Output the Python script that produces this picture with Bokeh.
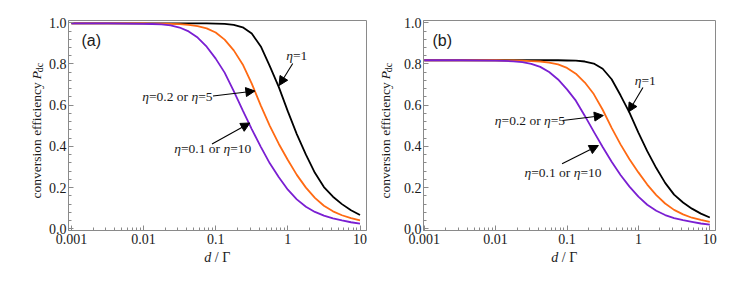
import math
from bokeh.plotting import figure
from bokeh.layouts import row, column
from bokeh.models import (Range1d, Label, Arrow, NormalHead, FixedTicker,
                          CustomJSTickFormatter, PrintfTickFormatter)
from bokeh.embed import file_html
from bokeh.resources import INLINE

# ---------------- data ----------------
d_over_gamma = [0.001, 0.00316, 0.01, 0.0133, 0.0178, 0.0237, 0.0316, 0.0422, 0.0562, 0.075,
                0.1, 0.133, 0.178, 0.237, 0.316, 0.422, 0.562, 0.75, 1.0, 1.33, 1.78, 2.37,
                3.16, 4.22, 5.62, 7.5, 10.0]

# panel (a)
a_eta1 = [0.997, 0.997, 0.997, 0.997, 0.997, 0.997, 0.997, 0.997, 0.997, 0.997, 0.996,
          0.995, 0.99, 0.978, 0.948, 0.885, 0.79, 0.688, 0.57, 0.46, 0.36, 0.272, 0.203,
          0.156, 0.12, 0.09, 0.067]
a_eta02 = [0.997, 0.997, 0.997, 0.996, 0.996, 0.995, 0.993, 0.99, 0.984, 0.973, 0.953,
           0.918, 0.866, 0.798, 0.705, 0.598, 0.5, 0.412, 0.334, 0.262, 0.2, 0.15, 0.112,
           0.085, 0.066, 0.052, 0.041]
a_eta01 = [0.997, 0.997, 0.995, 0.994, 0.992, 0.987, 0.977, 0.958, 0.928, 0.884, 0.826,
           0.758, 0.668, 0.575, 0.484, 0.398, 0.318, 0.25, 0.19, 0.143, 0.107, 0.082, 0.064,
           0.051, 0.041, 0.032, 0.025]

# panel (b)
b_eta1 = [0.818, 0.818, 0.818, 0.818, 0.818, 0.818, 0.818, 0.818, 0.818, 0.818, 0.817,
          0.816, 0.812, 0.802, 0.777, 0.726, 0.648, 0.564, 0.467, 0.377, 0.295, 0.223, 0.166,
          0.128, 0.098, 0.074, 0.055]
b_eta02 = [0.818, 0.818, 0.818, 0.817, 0.817, 0.816, 0.814, 0.812, 0.807, 0.798, 0.781,
           0.753, 0.71, 0.654, 0.578, 0.49, 0.41, 0.338, 0.274, 0.215, 0.164, 0.123, 0.092,
           0.07, 0.054, 0.043, 0.034]
b_eta01 = [0.818, 0.818, 0.816, 0.815, 0.813, 0.809, 0.801, 0.786, 0.761, 0.725, 0.677,
           0.622, 0.548, 0.472, 0.397, 0.326, 0.261, 0.205, 0.156, 0.117, 0.088, 0.067, 0.052,
           0.042, 0.034, 0.026, 0.02]

x_ticks = [0.001, 0.01, 0.1, 1, 10]
y_ticks = [0.0, 0.2, 0.4, 0.6, 0.8, 1.0]

series_names = ["eta=1", "eta=0.2 or eta=5", "eta=0.1 or eta=10"]
colors = ["#000000", "#FF6A13", "#7A1FD2"]

# ---------------- styling ----------------
SERIF = "Liberation Serif"
SANS = "Liberation Sans"
FRAME_C = "#8a8a8a"
TXT_C = "#1a1a1a"

Y0, Y1 = -0.008, 1.011
FRAME_TOP, FRAME_BOT = 20, 230      # page pixel coordinates of the frames
PANEL_H = 250                        # height of the plotting figures
TOTAL_H = 278
TOTAL_W = 727

# frame geometry on the page: (left px, right px, log10 x-start, log10 x-end)
GEOM = {
    "a": (67, 366, -3.04, 1.09),
    "b": (420, 715, -3.01, 1.08),
}

WID = {c: 500 for c in "0123456789"}
WID.update({".": 250, " ": 250, "=": 564, "o": 500, "r": 333, "\u03b7": 500,
            "d": 500, "/": 278, "\u0393": 611, "P": 611, "c": 444})


def tw(s, size):
    return sum(WID.get(ch, 500) for ch in s) * size / 1000.0


def to_data(panel, px, py):
    fx0, fx1, lx0, lx1 = GEOM[panel]
    lx = lx0 + (px - fx0) / (fx1 - fx0) * (lx1 - lx0)
    y = Y1 - (py - FRAME_TOP) / (FRAME_BOT - FRAME_TOP) * (Y1 - Y0)
    return 10 ** lx, y


def lab(p, x, y, t, style, size, align="left", x_offset=0, angle=0.0):
    p.add_layout(Label(x=x, y=y, x_offset=x_offset, text=t, angle=angle,
                       text_font=SERIF, text_font_style=style, text_font_size=f"{size}px",
                       text_align=align, text_baseline="middle", text_color=TXT_C))


def rich(p, x, y, pieces, size, align="left"):
    total = sum(tw(t, size) for t, _ in pieces)
    off = -total / 2 if align == "center" else 0.0
    for t, style in pieces:
        lab(p, x, y, t, style, size, x_offset=off)
        off += tw(t, size)


def blank(width, height, x0, y0):
    """A frame-only figure (no axes) whose data coordinates are page pixels."""
    s = figure(width=width, height=height, x_range=Range1d(x0, x0 + width),
               y_range=Range1d(y0 + height, y0), output_backend="svg",
               toolbar_location=None, tools="", min_border=0,
               x_axis_location=None, y_axis_location=None)
    s.outline_line_color = None
    s.grid.visible = False
    s.background_fill_color = "white"
    s.border_fill_color = "white"
    return s


def ylabel(s, px, py_p=70):
    size = 13.5
    # main text ends just below the italic P
    lab(s, px, py_p + 3.4, "conversion efficiency", "normal", size, align="right",
        angle=math.pi / 2)
    lab(s, px, py_p, "P", "italic", size, align="left", angle=math.pi / 2)
    lab(s, px + 3, py_p - tw("P", size), "dc", "normal", 10, align="left", angle=math.pi / 2)


def xlabel(s, cx, cy):
    size = 14
    total = tw("d / \u0393", size)
    anchor = cx - total / 2 + tw("d", size)
    lab(s, anchor, cy, "d", "italic", size, align="right")
    lab(s, anchor + tw(" ", size), cy, "/ \u0393", "normal", size, align="left")


def arrow(p, panel, p0, p1):
    xs, ys = to_data(panel, *p0)
    xe, ye = to_data(panel, *p1)
    p.add_layout(Arrow(x_start=xs, y_start=ys, x_end=xe, y_end=ye, line_width=1.1,
                       line_color="black",
                       end=NormalHead(size=9, fill_color="black", line_color="black", line_width=1)))


def make_panel(panel, width, border_left, border_right, ys):
    fx0, fx1, lx0, lx1 = GEOM[panel]
    p = figure(width=width, height=PANEL_H, x_axis_type="log",
               x_range=Range1d(10 ** lx0, 10 ** lx1), y_range=Range1d(Y0, Y1),
               output_backend="svg", toolbar_location=None,
               min_border_left=border_left, min_border_right=border_right,
               min_border_top=FRAME_TOP, min_border_bottom=PANEL_H - FRAME_BOT)
    p.background_fill_color = "white"
    p.border_fill_color = "white"
    p.outline_line_color = FRAME_C
    p.outline_line_width = 1
    p.xgrid.visible = False
    p.ygrid.visible = False

    minor_x = [m * 10 ** e for e in range(-3, 1) for m in range(2, 10)]
    p.xaxis.ticker = FixedTicker(ticks=x_ticks, minor_ticks=minor_x)
    p.xaxis.formatter = CustomJSTickFormatter(code="return String(tick);")
    minor_y = [round(i * 0.04, 2) for i in range(0, 26)]
    p.yaxis.ticker = FixedTicker(ticks=y_ticks, minor_ticks=minor_y)
    p.yaxis.formatter = PrintfTickFormatter(format="%.1f")
    for ax in (p.xaxis[0], p.yaxis[0]):
        ax.axis_line_color = FRAME_C
        ax.major_tick_line_color = FRAME_C
        ax.minor_tick_line_color = FRAME_C
        ax.major_tick_in = 5
        ax.major_tick_out = 0
        ax.minor_tick_in = 3
        ax.minor_tick_out = 0
        ax.major_label_text_font = SERIF
        ax.major_label_text_font_size = "14px"
        ax.major_label_text_color = TXT_C
    p.xaxis.major_label_standoff = 3
    p.yaxis.major_label_standoff = 2

    for vals, c in zip(ys, colors):
        p.line(d_over_gamma, vals, line_color=c, line_width=1.8)
    return p


# page columns: [0,45) ylabel a | [45,373) panel a | [373,400) ylabel b | [400,727) panel b
strip_ya = blank(45, PANEL_H, 0, 0)
p1 = make_panel("a", 328, 67 - 45, 7, [a_eta1, a_eta02, a_eta01])
strip_yb = blank(27, PANEL_H, 373, 0)
p2 = make_panel("b", 327, 420 - 400, 12, [b_eta1, b_eta02, b_eta01])
strip_x = blank(TOTAL_W, TOTAL_H - PANEL_H, 0, PANEL_H)

ylabel(strip_ya, 36)
ylabel(strip_yb, 385)
xlabel(strip_x, 217, 257)
xlabel(strip_x, 564, 257)

# panel (a) annotations
X, Y = to_data("a", 80, 40)
p1.add_layout(Label(x=X, y=Y, text="(a)", text_font=SANS, text_font_size="16px",
                    text_align="left", text_baseline="middle", text_color=TXT_C))
rich(p1, *to_data("a", 296, 55), [("\u03b7", "italic"), ("=1", "normal")], 13.5, align="center")
rich(p1, *to_data("a", 141, 96), [("\u03b7", "italic"), ("=0.2 or ", "normal"),
                                  ("\u03b7", "italic"), ("=5", "normal")], 13.5)
rich(p1, *to_data("a", 173, 148), [("\u03b7", "italic"), ("=0.1 or ", "normal"),
                                   ("\u03b7", "italic"), ("=10", "normal")], 13.5)
arrow(p1, "a", (292, 63), (278.3, 85))
arrow(p1, "a", (212, 95.5), (254, 90.5))
arrow(p1, "a", (211, 143.5), (249, 122.5))

# panel (b) annotations
X, Y = to_data("b", 429, 40)
p2.add_layout(Label(x=X, y=Y, text="(b)", text_font=SANS, text_font_size="16px",
                    text_align="left", text_baseline="middle", text_color=TXT_C))
rich(p2, *to_data("b", 644, 80), [("\u03b7", "italic"), ("=1", "normal")], 13.5, align="center")
rich(p2, *to_data("b", 492, 120), [("\u03b7", "italic"), ("=0.2 or ", "normal"),
                                   ("\u03b7", "italic"), ("=5", "normal")], 13.5)
rich(p2, *to_data("b", 522, 172), [("\u03b7", "italic"), ("=0.1 or ", "normal"),
                                   ("\u03b7", "italic"), ("=10", "normal")], 13.5)
arrow(p2, "b", (641.7, 87), (627, 111.5))
arrow(p2, "b", (560.5, 120), (601.7, 115))
arrow(p2, "b", (560, 163.3), (596.7, 145))

layout = column(row(strip_ya, p1, strip_yb, p2), strip_x)
open("out.html", "w").write(file_html(layout, INLINE))
